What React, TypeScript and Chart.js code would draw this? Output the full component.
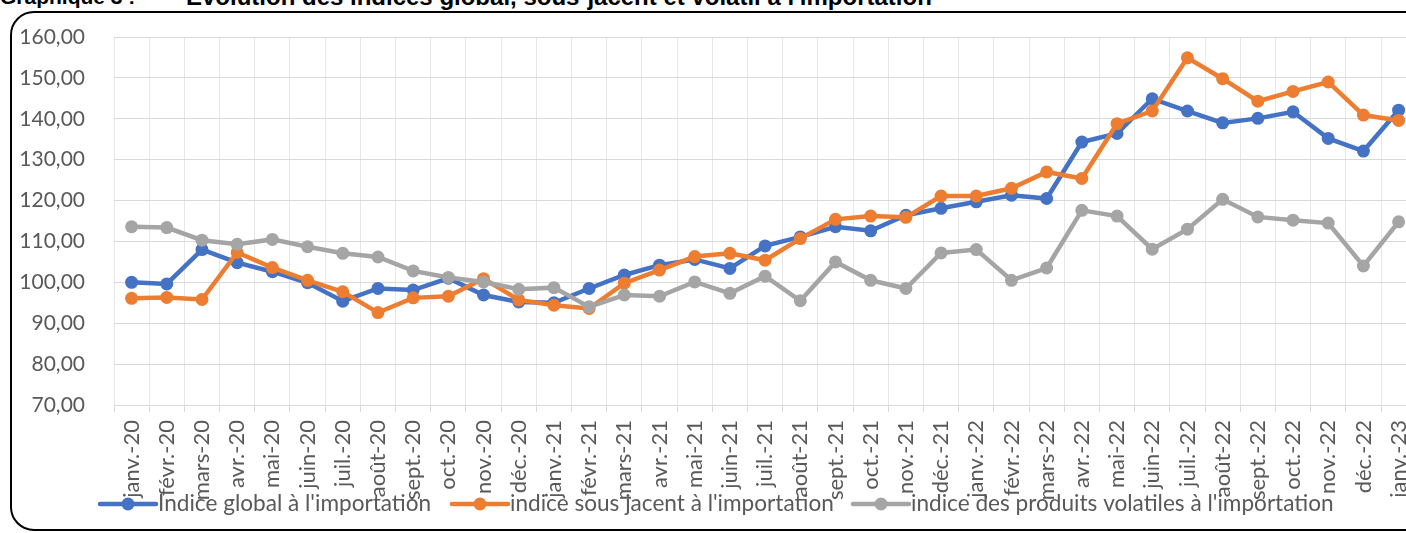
import React, { useEffect, useRef } from "react";
import { Chart, registerables } from "chart.js";

Chart.register(...registerables);

const categories = [
  "janv.-20", "févr.-20", "mars-20", "avr.-20", "mai-20", "juin-20", "juil.-20", "août-20", "sept.-20", "oct.-20", "nov.-20", "déc.-20",
  "janv.-21", "févr.-21", "mars-21", "avr.-21", "mai-21", "juin-21", "juil.-21", "août-21", "sept.-21", "oct.-21", "nov.-21", "déc.-21",
  "janv.-22", "févr.-22", "mars-22", "avr.-22", "mai-22", "juin-22", "juil.-22", "août-22", "sept.-22", "oct.-22", "nov.-22", "déc.-22",
  "janv.-23",
];

const indiceGlobal = [
  100.0, 99.6, 108.0, 104.8, 102.6, 99.9, 95.4, 98.5, 98.1, 101.0, 96.9, 95.2,
  95.0, 98.5, 101.8, 104.2, 105.6, 103.4, 108.9, 111.1, 113.6, 112.6, 116.4, 118.1,
  119.7, 121.3, 120.5, 134.3, 136.4, 144.9, 141.9, 139.0, 140.1, 141.7, 135.2, 132.1,
  142.1,
];

const indiceSousJacent = [
  96.1, 96.3, 95.8, 107.3, 103.6, 100.5, 97.7, 92.6, 96.2, 96.6, 100.9, 95.7,
  94.4, 93.6, 99.8, 103.0, 106.3, 107.1, 105.4, 110.7, 115.4, 116.2, 115.9, 121.1,
  121.1, 123.0, 127.0, 125.4, 138.8, 141.9, 154.9, 149.8, 144.3, 146.7, 149.0, 140.9,
  139.6,
];

const indiceVolatils = [
  113.6, 113.4, 110.3, 109.3, 110.5, 108.7, 107.1, 106.2, 102.8, 101.2, 100.1, 98.3,
  98.7, 94.0, 96.9, 96.6, 100.1, 97.3, 101.5, 95.5, 105.0, 100.5, 98.5, 107.2,
  108.0, 100.5, 103.5, 117.6, 116.2, 108.1, 113.0, 120.3, 116.0, 115.2, 114.5, 104.0,
  114.8,
];

const seriesLabels = [
  "Indice global à l'importation",
  "indice sous jacent à l'importation",
  "indice des produits volatiles à l'importation",
];

const yMin = 70;
const yMax = 160;
const yStep = 10;

const titlePrefix = "Graphique 3 :";
const titleText = "Evolution des indices global, sous-jacent et volatil à l'importation";

const COLORS = ["#4472C4", "#ED7D31", "#A5A5A5"];
const TEXT = "#595959";
const FONT = "Lato";

const CANVAS_W = 1440;
const CANVAS_H = 533;

const LEGEND_X = [100, 452, 853];

const legendPlugin = {
  id: "bottomLegend",
  afterDraw(chart: any) {
    const ctx = chart.ctx;
    ctx.save();
    ctx.font = `22.6px ${FONT}`;
    const sym = 56;
    const y = 504;
    seriesLabels.forEach((label, i) => {
      const x = LEGEND_X[i];
      ctx.strokeStyle = COLORS[i];
      ctx.lineWidth = 4.5;
      ctx.lineCap = "round";
      ctx.beginPath();
      ctx.moveTo(x, y);
      ctx.lineTo(x + sym, y);
      ctx.stroke();
      ctx.fillStyle = COLORS[i];
      ctx.beginPath();
      ctx.arc(x + sym / 2, y, 6.5, 0, Math.PI * 2);
      ctx.fill();
      ctx.fillStyle = TEXT;
      ctx.textBaseline = "middle";
      ctx.textAlign = "left";
      ctx.fillText(label, x + sym + 2, y);
    });
    ctx.restore();
  },
};

export default function App() {
  const canvasRef = useRef<HTMLCanvasElement | null>(null);

  useEffect(() => {
    const canvas = canvasRef.current;
    if (!canvas) return;
    const series = [indiceGlobal, indiceSousJacent, indiceVolatils];
    const chart = new Chart(canvas, {
      type: "line",
      data: {
        labels: categories,
        datasets: series.map((data, i) => ({
          label: seriesLabels[i],
          data,
          borderColor: COLORS[i],
          backgroundColor: COLORS[i],
          pointBackgroundColor: COLORS[i],
          pointBorderColor: COLORS[i],
          borderWidth: 4.5,
          pointRadius: 6.5,
          pointBorderWidth: 0,
          tension: 0,
          fill: false,
          order: 2 - i,
        })),
      },
      options: {
        responsive: false,
        animation: false,
        devicePixelRatio: 1,
        layout: {
          padding: { left: 0, top: 37, right: CANVAS_W - 1416.2, bottom: 0 },
        },
        plugins: {
          legend: { display: false },
          tooltip: { enabled: false },
          title: { display: false },
        },
        scales: {
          x: {
            type: "category",
            offset: true,
            grid: {
              offset: true,
              color: "#e7e7e7",
              lineWidth: 1,
              drawTicks: true,
              tickLength: 7,
              tickColor: "#d9d9d9",
            },
            border: { color: "#d9d9d9", width: 1 },
            ticks: {
              autoSkip: false,
              maxRotation: 90,
              minRotation: 90,
              padding: 8,
              color: TEXT,
              font: { family: FONT, size: 22 },
            },
            afterFit(scale: any) {
              scale.height = CANVAS_H - 405;
            },
          },
          y: {
            min: yMin,
            max: yMax,
            grid: {
              color: "#d9d9d9",
              lineWidth: 1,
              drawTicks: true,
              tickLength: 25,
              tickColor: "rgba(0,0,0,0)",
            },
            border: { display: false },
            ticks: {
              stepSize: yStep,
              padding: 4,
              color: TEXT,
              font: { family: FONT, size: 21 },
              callback: (v: any) => Number(v).toFixed(2).replace(".", ","),
            },
            afterFit(scale: any) {
              scale.width = 114;
            },
          },
        },
      },
      plugins: [legendPlugin],
    });
    return () => chart.destroy();
  }, []);

  const titleStyle: React.CSSProperties = {
    position: "absolute",
    top: -15,
    font: 'bold 24px "Liberation Sans", Arial, sans-serif',
    lineHeight: "24px",
    whiteSpace: "pre",
    color: "#000",
  };

  return (
    <div
      style={{
        position: "fixed",
        left: 0,
        top: 0,
        width: 1406,
        height: 533,
        overflow: "hidden",
        background: "#fff",
      }}
    >
      <div
        style={{
          position: "absolute",
          left: 10,
          top: 11,
          width: 1480,
          height: 520,
          border: "2.5px solid #000",
          borderRadius: 24,
          boxSizing: "border-box",
        }}
      />
      <div style={{ ...titleStyle, left: 0, fontSize: 21 }}>{titlePrefix}</div>
      <div style={{ ...titleStyle, left: 186 }}>{titleText}</div>
      <canvas
        ref={canvasRef}
        width={CANVAS_W}
        height={CANVAS_H}
        style={{ position: "absolute", left: 0, top: 0, width: CANVAS_W, height: CANVAS_H }}
      />
    </div>
  );
}
